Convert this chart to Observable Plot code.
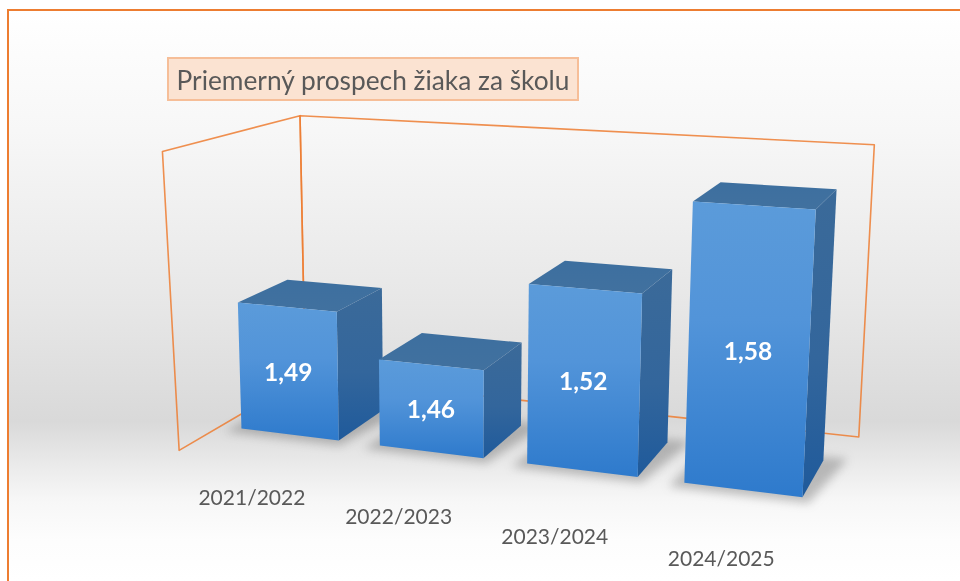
<!doctype html>
<html lang="sk"><head><meta charset="utf-8">
<style>
html,body{margin:0;padding:0;background:#fff;width:960px;height:581px;overflow:hidden}
#panel{position:absolute;left:7px;top:9px;width:953px;height:572px;box-sizing:border-box;border-left:2.6px solid #ED7D31;border-top:2.6px solid #ED7D31;
background:linear-gradient(180deg,#fff 0%,#f7f7f7 21%,#e6e6e6 53%,#d9d9d9 72%,#ebebeb 80%,#f7f7f7 86%,#fdfdfd 93%,#fff 100%)}
#chart{position:absolute;left:0;top:0;filter:blur(.4px)}
#title{position:absolute;left:167px;top:57px;width:412px;height:44px;box-sizing:border-box;background:#FBE3D2;border:2.4px solid #F6BE98;color:#595959;
font:26.3px/43px Lato,sans-serif;text-align:center;white-space:nowrap;filter:blur(.3px)}
</style>
<script src="https://cdn.jsdelivr.net/npm/d3@7"></script>
<script src="https://cdn.jsdelivr.net/npm/@observablehq/plot@0.6"></script>
</head><body>
<div id="panel"></div>
<div id="chart"></div>
<div id="title"></div>
<script>
const titleText = "Priemerný prospech žiaka za školu";
const categories = ["2021/2022", "2022/2023", "2023/2024", "2024/2025"];
const values = [1.49, 1.46, 1.52, 1.58];
const axisMin = 1.40, axisMax = 1.60;

// Perspective camera of the 3-D column chart (world: x = category, y = value above axis, z = depth)
const cam = [126.8355,-83.27955,64.84454,240.9501, 3.384126,-1455.884,-6.668588,428.0719, -0.03040516,-0.1824687,0.05627846];
const project = (X,Y,Z) => {
  const d = cam[8]*X + cam[9]*Y + cam[10]*Z + 1;
  return {x:(cam[0]*X+cam[1]*Y+cam[2]*Z+cam[3])/d, y:(cam[4]*X+cam[5]*Y+cam[6]*Z+cam[7])/d};
};
const barW = 0.71;
const poly = (id, pts) => pts.map(([X,Y,Z]) => ({id, ...project(X,Y,Z)}));

const wallH = axisMax - axisMin + 0.001;
const wx0 = -0.155, wx1 = 3.844, wzF = -0.763, wzB = 1.78;
const walls = [
  ...poly("left", [[wx0,0,wzF],[wx0-.04,wallH,wzF],[wx0,wallH,wzB],[wx0,0,wzB]]),
  ...poly("back", [[wx0,0,wzB],[wx0,wallH,wzB],[wx1,wallH,wzB],[wx1,0,wzB]])
];

const shadows = values.flatMap((v,i) => poly("s"+i, [[i-.07,0,-.13],[i+barW+.05,0,-.13],[i+barW+.13,0,1.0],[i+barW+.13,0,1.12],[i-.03,0,1.0]]));

const barMarks = values.flatMap((v,i) => {
  const h = v - axisMin, a = i, b = i + barW;
  return [
    Plot.line(poly("top", [[a,h,0],[b,h,0],[b,h,1],[a,h,1]]), {x:"x",y:"y",z:"id",fill:"url(#gTop)",stroke:"none",curve:"linear-closed"}),
    Plot.line(poly("side",[[b,h,0],[b,h,1],[b,0,1],[b,0,0]]), {x:"x",y:"y",z:"id",fill:"url(#gSide)",stroke:"none",curve:"linear-closed"}),
    Plot.line(poly("front",[[a,h,0],[b,h,0],[b,0,0],[a,0,0]]), {x:"x",y:"y",z:"id",fill:"url(#gFront)",stroke:"none",curve:"linear-closed"})
  ];
});

const valueLabels = values.map((v,i) => ({t:v.toFixed(2).replace(".",","), ...project(i+barW/2,(v-axisMin)/2,0)}));
const catLabels = categories.map((t,i) => ({t, ...project(0.696+0.928*i,0,-1.64+0.027*i)}));

const defs = () => {
  const g = d3.create("svg:defs");
  const grad = (id, stops) => {
    const l = g.append("linearGradient").attr("id",id).attr("x1",0).attr("y1",0).attr("x2",0).attr("y2",1);
    stops.forEach(([o,c]) => l.append("stop").attr("offset",o).attr("stop-color",c));
  };
  grad("gFront",[[0,"#5B9BDA"],[.4,"#5294D9"],[1,"#2E7ACC"]]);
  grad("gSide",[[0,"#3B6A99"],[.55,"#33669C"],[1,"#1F5A9B"]]);
  grad("gTop",[[0,"#3D6F9F"],[1,"#41719F"]]);
  return g.node();
};

const plot = Plot.plot({
  width:960, height:581, margin:0,
  x:{type:"identity",axis:null}, y:{type:"identity",axis:null},
  style:{background:"transparent"},
  marks:[
    defs,
    Plot.line(walls,{x:"x",y:"y",z:"id",stroke:"#ED7D31",strokeWidth:1.6,strokeOpacity:.85,curve:"linear-closed"}),
    Plot.line(shadows,{x:"x",y:"y",z:"id",fill:"#5a5a5a",fillOpacity:.36,stroke:"none",curve:"linear-closed",imageFilter:"blur(5px)"}),
    barMarks,
    Plot.text(valueLabels,{x:"x",y:"y",dy:1.5,text:"t",fill:"#fff",fontSize:24.5,fontWeight:700,fontFamily:"Lato, sans-serif"}),
    Plot.text(catLabels,{x:"x",y:"y",text:"t",fill:"#595959",fontSize:21,fontFamily:"Lato, sans-serif"})
  ]
});
document.getElementById("chart").append(plot);
document.getElementById("title").textContent = titleText;
</script></body></html>
